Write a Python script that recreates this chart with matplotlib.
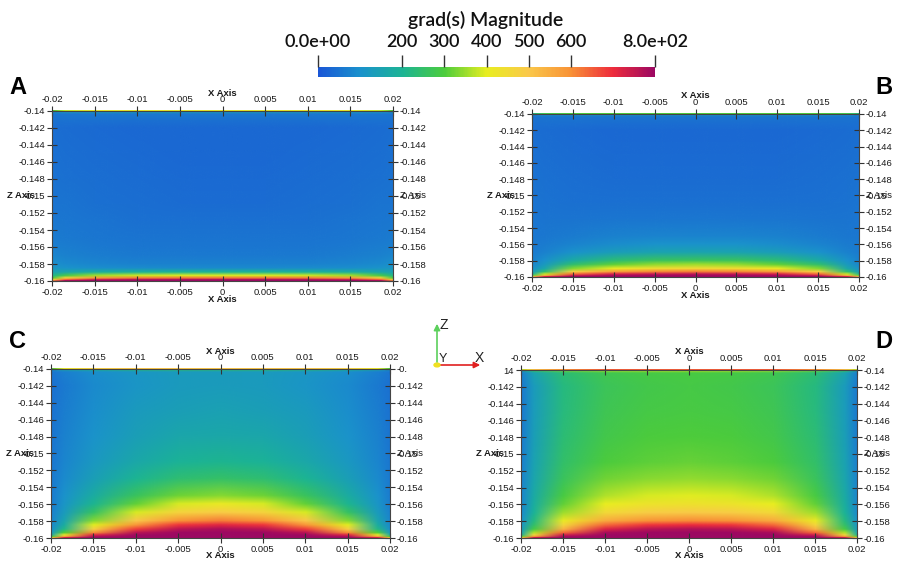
import numpy as np
import matplotlib
matplotlib.use("Agg")
import matplotlib.pyplot as plt
from matplotlib.colors import LinearSegmentedColormap, Normalize
from matplotlib.transforms import ScaledTranslation
from matplotlib.patches import FancyArrowPatch, Circle
from matplotlib.image import NonUniformImage

# ---------------- data ----------------
COLORBAR_TITLE = "grad(s) Magnitude"
CBAR_TICKS = [0, 200, 300, 400, 500, 600, 800]
CBAR_LABELS = ["0.0e+00", "200", "300", "400", "500", "600", "8.0e+02"]
VMIN, VMAX = 0, 800

X_TICKS = [-0.02, -0.015, -0.01, -0.005, 0.0, 0.005, 0.01, 0.015, 0.02]
X_TICK_LABELS = ["-0.02", "-0.015", "-0.01", "-0.005", "0", "0.005", "0.01", "0.015", "0.02"]
Z_TICKS = [-0.14, -0.142, -0.144, -0.146, -0.148, -0.15, -0.152, -0.154, -0.156, -0.158, -0.16]
Z_TICK_LABELS = ["-0.14", "-0.142", "-0.144", "-0.146", "-0.148", "-0.15",
                 "-0.152", "-0.154", "-0.156", "-0.158", "-0.16"]
# labels partly clipped in the original rendering
Z_LABELS_C_RIGHT = ["-0."] + Z_TICK_LABELS[1:]
Z_LABELS_D_LEFT = ["14"] + Z_TICK_LABELS[1:]

PANEL_LETTERS = ["A", "B", "C", "D"]

# sample positions of the estimated field
X_GRID = [-0.02, -0.0185, -0.015, -0.01, -0.005, 0.0, 0.005, 0.01, 0.015, 0.0185, 0.02]
Z_GRID = [-0.14, -0.1401, -0.1404, -0.142, -0.145, -0.148, -0.151, -0.153, -0.155,
          -0.156, -0.157, -0.158, -0.1585, -0.159, -0.1594, -0.1597, -0.1599, -0.16]

GRAD_A = [
    [300, 380, 420, 420, 420, 420, 420, 420, 420, 380, 300],
    [120, 140, 150, 150, 150, 150, 150, 150, 150, 140, 120],
    [50, 55, 58, 58, 58, 58, 58, 58, 58, 55, 50],
    [42, 40, 37, 34, 32, 32, 32, 34, 37, 40, 42],
    [44, 42, 39, 36, 34, 34, 34, 36, 39, 42, 44],
    [47, 45, 42, 39, 37, 37, 37, 39, 42, 45, 47],
    [52, 50, 46, 42, 40, 40, 40, 42, 46, 50, 52],
    [57, 54, 50, 46, 44, 44, 44, 46, 50, 54, 57],
    [64, 60, 56, 52, 50, 50, 50, 52, 56, 60, 64],
    [70, 66, 60, 56, 54, 54, 54, 56, 60, 66, 70],
    [80, 74, 66, 62, 60, 60, 60, 62, 66, 74, 80],
    [98, 90, 80, 74, 72, 72, 72, 74, 80, 90, 98],
    [115, 105, 96, 92, 90, 90, 90, 92, 96, 105, 115],
    [150, 160, 185, 195, 200, 200, 200, 195, 185, 160, 150],
    [210, 280, 350, 380, 390, 390, 390, 380, 350, 280, 210],
    [300, 460, 580, 620, 630, 630, 630, 620, 580, 460, 300],
    [450, 650, 750, 780, 785, 785, 785, 780, 750, 650, 450],
    [600, 780, 800, 800, 800, 800, 800, 800, 800, 780, 600],
]

GRAD_B = [
    [220, 280, 300, 300, 300, 300, 300, 300, 300, 280, 220],
    [90, 100, 110, 110, 110, 110, 110, 110, 110, 100, 90],
    [48, 50, 52, 52, 52, 52, 52, 52, 52, 50, 48],
    [42, 40, 37, 34, 32, 32, 32, 34, 37, 40, 42],
    [44, 42, 39, 36, 35, 35, 35, 36, 39, 42, 44],
    [47, 45, 42, 40, 39, 39, 39, 40, 42, 45, 47],
    [50, 48, 46, 45, 44, 44, 44, 45, 46, 48, 50],
    [54, 52, 52, 54, 56, 57, 56, 54, 52, 52, 54],
    [57, 58, 64, 72, 77, 78, 77, 72, 64, 58, 57],
    [60, 64, 77, 92, 100, 102, 100, 92, 77, 64, 60],
    [64, 74, 102, 132, 147, 152, 147, 132, 102, 74, 64],
    [72, 97, 172, 232, 257, 262, 257, 232, 172, 97, 72],
    [82, 122, 242, 312, 342, 352, 342, 312, 242, 122, 82],
    [97, 162, 332, 412, 442, 452, 442, 412, 332, 162, 97],
    [130, 240, 480, 580, 610, 620, 610, 580, 480, 240, 130],
    [200, 380, 640, 730, 750, 760, 750, 730, 640, 380, 200],
    [330, 560, 750, 790, 795, 795, 795, 790, 750, 560, 330],
    [500, 720, 800, 800, 800, 800, 800, 800, 800, 720, 500],
]

GRAD_C = [
    [300, 420, 480, 500, 500, 500, 500, 500, 480, 420, 300],
    [100, 160, 200, 230, 240, 240, 240, 230, 200, 160, 100],
    [50, 70, 95, 115, 125, 130, 125, 115, 95, 70, 50],
    [45, 62, 88, 112, 125, 130, 125, 112, 88, 62, 45],
    [48, 66, 95, 125, 140, 145, 140, 125, 95, 66, 48],
    [52, 72, 105, 140, 160, 165, 160, 140, 105, 72, 52],
    [56, 80, 120, 165, 195, 205, 195, 165, 120, 80, 56],
    [60, 88, 140, 200, 240, 250, 240, 200, 140, 88, 60],
    [65, 100, 175, 260, 320, 335, 320, 260, 175, 100, 65],
    [68, 110, 205, 315, 390, 410, 390, 315, 205, 110, 68],
    [72, 125, 255, 390, 470, 490, 470, 390, 255, 125, 72],
    [80, 150, 335, 500, 595, 620, 595, 500, 335, 150, 80],
    [85, 175, 395, 590, 690, 715, 690, 590, 395, 175, 85],
    [95, 215, 480, 680, 760, 780, 760, 680, 480, 215, 95],
    [120, 300, 600, 760, 795, 800, 795, 760, 600, 300, 120],
    [180, 420, 720, 795, 800, 800, 800, 795, 720, 420, 180],
    [300, 580, 780, 800, 800, 800, 800, 800, 780, 580, 300],
    [450, 720, 800, 800, 800, 800, 800, 800, 800, 720, 450],
]

GRAD_D = [
    [380, 520, 600, 650, 650, 650, 650, 650, 600, 520, 380],
    [150, 260, 330, 360, 370, 370, 370, 360, 330, 260, 150],
    [70, 150, 235, 275, 288, 292, 288, 275, 235, 150, 70],
    [60, 130, 222, 268, 284, 288, 284, 268, 222, 130, 60],
    [62, 134, 226, 272, 288, 292, 288, 272, 226, 134, 62],
    [65, 140, 235, 282, 298, 302, 298, 282, 235, 140, 65],
    [70, 148, 248, 298, 312, 316, 312, 298, 248, 148, 70],
    [75, 158, 265, 322, 340, 346, 340, 322, 265, 158, 75],
    [80, 172, 292, 365, 390, 396, 390, 365, 292, 172, 80],
    [84, 182, 315, 400, 428, 434, 428, 400, 315, 182, 84],
    [90, 196, 350, 455, 485, 492, 485, 455, 350, 196, 90],
    [100, 222, 415, 555, 595, 605, 595, 555, 415, 222, 100],
    [110, 248, 465, 640, 690, 702, 690, 640, 465, 248, 110],
    [125, 290, 540, 720, 765, 772, 765, 720, 540, 290, 125],
    [150, 360, 640, 780, 795, 798, 795, 780, 640, 360, 150],
    [210, 460, 740, 800, 800, 800, 800, 800, 740, 460, 210],
    [320, 600, 790, 800, 800, 800, 800, 800, 790, 600, 320],
    [450, 740, 800, 800, 800, 800, 800, 800, 800, 740, 450],
]

# ---------------- styling / layout ----------------
W, H = 901, 562
FONT = "Liberation Sans"
plt.rcParams["font.family"] = [FONT, "DejaVu Sans"]

cmap = LinearSegmentedColormap.from_list("pv", [
    (0.0, "#1a56d6"), (0.125, "#1a92cc"), (0.25, "#1cb494"), (0.375, "#4ccc3c"),
    (0.5, "#e8ee20"), (0.625, "#fac84a"), (0.75, "#f89236"), (0.875, "#ee2c3c"),
    (1.0, "#9c0862")])
norm = Normalize(VMIN, VMAX)

fig = plt.figure(figsize=(W / 100, H / 100), dpi=100)
fig.patch.set_facecolor("white")


def rect(l, t, r, b):
    return [l / W, 1 - b / H, (r - l) / W, (b - t) / H]


def fpt(x, y):
    return (x / W, 1 - y / H)


PANELS = [
    (GRAD_A, (52, 111, 393, 281), Z_TICK_LABELS, Z_TICK_LABELS),
    (GRAD_B, (532, 114, 859, 277), Z_TICK_LABELS, Z_TICK_LABELS),
    (GRAD_C, (51, 369, 390, 538), Z_TICK_LABELS, Z_LABELS_C_RIGHT),
    (GRAD_D, (521, 370, 857, 538), Z_LABELS_D_LEFT, Z_TICK_LABELS),
]
LETTER_POS = [(18, 87), (884, 87), (18, 342), (884, 342)]

TICK_FS = 6.8
TICK_KW = dict(direction="inout", length=7, width=0.8, color="#333333",
               labelsize=TICK_FS, pad=1.5, labelcolor="#1a1a1a")
x_arr = np.array(X_GRID)
z_arr = np.array(Z_GRID)[::-1]
for (grad, box, zl_left, zl_right), letter, lpos in zip(PANELS, PANEL_LETTERS, LETTER_POS):
    ax = fig.add_axes(rect(*box))
    im = NonUniformImage(ax, interpolation="bilinear", cmap=cmap, norm=norm,
                         extent=(-0.02, 0.02, -0.16, -0.14))
    im.set_data(x_arr, z_arr, np.array(grad, dtype=float)[::-1])
    ax.add_image(im)
    ax.set_xlim(-0.02, 0.02)
    ax.set_ylim(-0.16, -0.14)
    for s in ax.spines.values():
        s.set_color("#444444")
        s.set_linewidth(0.8)
    ax.set_xticks(X_TICKS, labels=X_TICK_LABELS)
    ax.set_yticks(Z_TICKS, labels=zl_left)
    ax.tick_params(axis="both", **TICK_KW)
    secx = ax.secondary_xaxis("top")
    secx.set_xticks(X_TICKS, labels=X_TICK_LABELS)
    secx.tick_params(**TICK_KW)
    secx.spines["top"].set_visible(False)
    secy = ax.secondary_yaxis("right")
    secy.set_yticks(Z_TICKS, labels=zl_right)
    secy.tick_params(**TICK_KW)
    secy.spines["right"].set_visible(False)

    # axis titles
    ax.text(0.5, 1, "X Axis", transform=ax.transAxes + ScaledTranslation(0, 18 / 100, fig.dpi_scale_trans),
            ha="center", va="center", fontsize=6.8, fontweight="bold", color="#1a1a1a")
    ax.text(0.5, 0, "X Axis", transform=ax.transAxes + ScaledTranslation(0, -18 / 100, fig.dpi_scale_trans),
            ha="center", va="center", fontsize=6.8, fontweight="bold", color="#1a1a1a")
    ax.text(0, -0.15, "Z Axis",
            transform=ax.get_yaxis_transform() + ScaledTranslation(-17 / 100, 0, fig.dpi_scale_trans),
            ha="right", va="center", fontsize=6.8, fontweight="bold", color="#1a1a1a")
    ax.text(1, -0.15, "Z Axis",
            transform=ax.get_yaxis_transform() + ScaledTranslation(7 / 100, 0, fig.dpi_scale_trans),
            ha="left", va="center", fontsize=6.8, color="#1a1a1a")

    fig.text(*fpt(*lpos), letter, ha="center", va="center", fontsize=17, fontweight="bold")

# ---------------- colorbar ----------------
cax = fig.add_axes(rect(318, 67, 655, 77))
cb = fig.colorbar(plt.cm.ScalarMappable(norm=norm, cmap=cmap), cax=cax, orientation="horizontal")
cb.outline.set_visible(False)
cax.xaxis.set_ticks_position("top")
cax.xaxis.set_label_position("top")
cb.set_ticks(CBAR_TICKS, labels=CBAR_LABELS)
cax.tick_params(axis="x", direction="out", length=9, width=1.0, color="#333333",
                labelsize=13, pad=3, labelcolor="#111111")
for lab in cax.get_xticklabels():
    lab.set_fontfamily(["Lato", "DejaVu Sans"])
    lab.set_fontweight("semibold")
fig.text(*fpt(486, 20), COLORBAR_TITLE, ha="center", va="center", fontsize=14,
         family=["Lato", "DejaVu Sans"], fontweight="semibold", color="#111111")

# ---------------- orientation gizmo ----------------
ox, oy = 437, 365
fig.add_artist(FancyArrowPatch(fpt(ox, oy), fpt(ox, 321), transform=fig.transFigure,
                               arrowstyle="-|>", mutation_scale=9, color="#5cd05c", lw=1.2))
fig.add_artist(FancyArrowPatch(fpt(ox, oy), fpt(483, oy), transform=fig.transFigure,
                               arrowstyle="-|>", mutation_scale=9, color="#e02020", lw=1.2))
fig.add_artist(Circle(fpt(ox, oy), 3 / W, transform=fig.transFigure, color="#f0e020", zorder=5))
fig.text(*fpt(444, 325), "Z", ha="center", va="center", fontsize=10, color="#222222")
fig.text(*fpt(479, 358), "X", ha="center", va="center", fontsize=10, color="#222222")
fig.text(*fpt(443, 359), "Y", ha="center", va="center", fontsize=9, color="#222222")

fig.savefig("out.png", dpi=100, facecolor="white")
